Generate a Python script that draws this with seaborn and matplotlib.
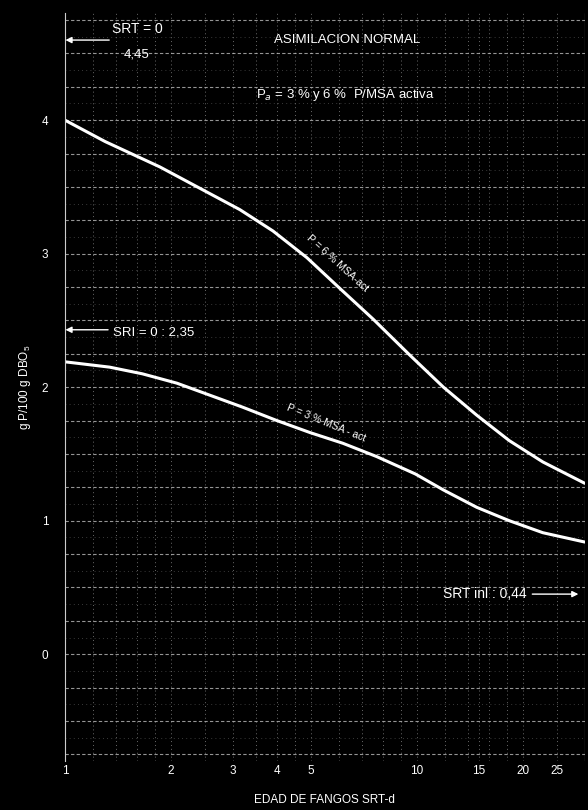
import numpy as np
import pandas as pd
import matplotlib
matplotlib.use("Agg")
import matplotlib.pyplot as plt
from matplotlib.ticker import FixedLocator, LogLocator, NullFormatter
import seaborn as sns

# ==========================================
# DATOS
# ==========================================
srt_6 = [1, 1.3, 1.86, 2.58, 3.14, 3.9, 4.87, 6.04, 7.51, 9.55, 11.9, 14.8, 18.3, 22.8, 30]
p_6 = [4.00, 3.84, 3.65, 3.45, 3.33, 3.17, 2.97, 2.74, 2.51, 2.24, 2.00, 1.79, 1.60, 1.44, 1.28]

srt_3 = [1, 1.34, 1.66, 2.08, 2.58, 3.2, 4.0, 4.97, 6.16, 7.69, 9.9, 11.9, 14.8, 18.3, 22.8, 30]
p_3 = [2.19, 2.15, 2.10, 2.03, 1.94, 1.85, 1.75, 1.66, 1.58, 1.48, 1.35, 1.23, 1.10, 1.00, 0.91, 0.84]

x_ticks = [1, 2, 3, 4, 5, 10, 15, 20, 25]
x_ticklabels = ["1", "2", "3", "4", "5", "10", "15", "20", "25"]
y_ticks = [0, 1, 2, 3, 4]
y_ticklabels = ["0", "1", "2", "3", "4"]

srt_0 = 4.45
sri_0 = 2.35
srt_inl = 0.44

df = pd.concat([
    pd.DataFrame({"srt": srt_6, "p": p_6, "curva": "6"}),
    pd.DataFrame({"srt": srt_3, "p": p_3, "curva": "3"}),
], ignore_index=True)

# ==========================================
# GRAFICA
# ==========================================
sns.set_theme(style="dark")
plt.rcParams["font.family"] = ["Liberation Sans", "DejaVu Sans"]
plt.rcParams["mathtext.fontset"] = "custom"
plt.rcParams["mathtext.rm"] = "Liberation Sans"

fig = plt.figure(figsize=(5.88, 8.10), dpi=100, facecolor="black")
ax = fig.add_axes([0.1105, 0.0605, 0.884, 0.923])
ax.set_facecolor("black")

sns.lineplot(data=df, x="srt", y="p", units="curva", estimator=None,
             color="white", lw=2.2, ax=ax, legend=False, sort=False,
             solid_joinstyle="round", solid_capstyle="round")

ax.set_xscale("log")
ax.set_xlim(1, 30)
ax.set_ylim(-0.8, 4.8)

ax.xaxis.set_major_locator(FixedLocator(x_ticks))
ax.set_xticklabels(x_ticklabels)
ax.xaxis.set_minor_locator(LogLocator(base=10, subs=[1, 1.2, 1.4, 1.6, 1.8, 2, 2.5, 3, 3.5, 4, 4.5, 5, 6, 7, 8, 9]))
ax.xaxis.set_minor_formatter(NullFormatter())
ax.yaxis.set_major_locator(FixedLocator(y_ticks))
ax.set_yticklabels(y_ticklabels)

ax.tick_params(axis="both", colors="white", labelsize=8.5, length=0)
ax.tick_params(axis="x", pad=3)
ax.tick_params(axis="y", pad=12)

# cuadricula tipo papel
for yy in np.arange(-0.75, 4.8, 0.25):
    ax.axhline(yy, color="#c8c8c8", lw=0.8, ls=(0, (3, 2)), alpha=0.75, zorder=1)
for yy in np.arange(-0.625, 4.8, 0.25):
    ax.axhline(yy, color="#9a9a9a", lw=0.6, ls=(0, (1, 4)), alpha=0.5, zorder=1)
ax.grid(which="minor", axis="x", color="#b0b0b0", lw=0.7, ls=(0, (1, 3)), alpha=0.6)
ax.grid(which="major", axis="x", color="#b0b0b0", lw=0.7, ls=(0, (1, 3)), alpha=0.6)

for side in ["top", "right", "bottom"]:
    ax.spines[side].set_visible(False)
ax.spines["left"].set_color("#cccccc")
ax.spines["left"].set_linewidth(0.8)
ax.axvline(30, color="#cccccc", lw=0.8)

ax.set_xlabel("EDAD DE FANGOS SRT-d", color="white", fontsize=8.5, labelpad=12)
ax.set_ylabel("g P/100 g DBO$_5$", color="white", fontsize=8.5, labelpad=6)

# textos
ax.text(6.33, 4.60, "ASIMILACION NORMAL", color="white", fontsize=9.5, ha="center", va="center")
ax.text(6.28, 4.19, "P$_a$ = 3 % y 6 %  P/MSA activa", color="white", fontsize=9.5, ha="center", va="center")

ax.text(1.61, 4.68, "SRT = 0", color="white", fontsize=10, ha="center", va="center")
ax.text(1.60, 4.49, str(srt_0).replace(".", ","), color="white", fontsize=9.5, ha="center", va="center")
ax.annotate("", xy=(0.985, 4.60), xytext=(1.36, 4.60), annotation_clip=False,
            arrowprops=dict(arrowstyle="-|>", color="white", lw=1.0, mutation_scale=9))

ax.text(1.37, sri_0 + 0.06, "SRI = 0 : " + str(sri_0).replace(".", ","), color="white",
        fontsize=9.5, ha="left", va="center")
ax.annotate("", xy=(0.985, sri_0 + 0.08), xytext=(1.35, sri_0 + 0.08), annotation_clip=False,
            arrowprops=dict(arrowstyle="-|>", color="white", lw=1.0, mutation_scale=9))

ax.text(11.86, srt_inl + 0.01, "SRT inl : " + str(srt_inl).replace(".", ","), color="white",
        fontsize=10, ha="left", va="center")
ax.annotate("", xy=(29.3, srt_inl + 0.01), xytext=(20.9, srt_inl + 0.01), annotation_clip=False,
            arrowprops=dict(arrowstyle="-|>", color="white", lw=1.0, mutation_scale=9))

# etiquetas de las curvas
ax.text(5.95, 2.93, "P = 6 % MSA-act", color="white", fontsize=7.5, rotation=-42,
        ha="center", va="center")
ax.text(5.52, 1.73, "P = 3 % MSA - act", color="white", fontsize=7.5, rotation=-22,
        ha="center", va="center")

plt.savefig("out.png", dpi=100, facecolor="black")
